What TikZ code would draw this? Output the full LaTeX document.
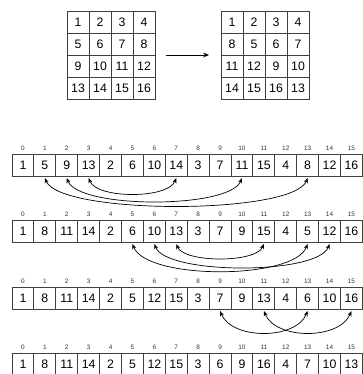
\documentclass[tikz,border=0pt]{standalone}
\usepackage{fontspec}
\setmainfont{Liberation Sans}
\usetikzlibrary{positioning,arrows.meta}

\tikzset{
  cell/.style={draw=black!75, line width=0.7pt, minimum width=0.657cm,
    minimum height=0.66cm, inner sep=0pt, outer sep=0pt,
    font=\fontsize{10.5}{12}\selectfont},
  gcell/.style={cell, minimum width=0.66cm},
  idx/.style={font=\fontsize{5.5}{6}\selectfont, inner sep=0pt, text=black!80},
  swaparc/.style={{Stealth[length=4.5pt,width=3.5pt]}-{Stealth[length=4.5pt,width=3.5pt]},
    line width=0.6pt}
}

\begin{document}
\begin{tikzpicture}[x=0.03cm,y=-0.03cm]
  \useasboundingbox (0,0) rectangle (362,374);

  % The two 4x4 squares
  \foreach \v [count=\k from 0] in {1,2,3,4,5,6,7,8,9,10,11,12,13,14,15,16} {
    \pgfmathtruncatemacro{\rw}{div(\k,4)}
    \pgfmathtruncatemacro{\cl}{mod(\k,4)}
    \node[gcell] (a\k) at ({78+22*\cl},{22+22*\rw}) {\v};
  }
  \foreach \v [count=\k from 0] in {1,2,3,4,8,5,6,7,11,12,9,10,14,15,16,13} {
    \pgfmathtruncatemacro{\rw}{div(\k,4)}
    \pgfmathtruncatemacro{\cl}{mod(\k,4)}
    \node[gcell] (b\k) at ({232+22*\cl},{22+22*\rw}) {\v};
  }

  % Arrow between the squares
  \coordinate[right=0.33cm of a7.south east] (gapL);
  \coordinate[left=0.36cm of b4.south west] (gapR);
  \draw[-{Stealth[length=5pt,width=4pt]}, line width=0.6pt] (gapL) -- (gapR);

  % The four rows with their indices
  \foreach \rw/\ytop/\vals in {
      1/154/{1,5,9,13,2,6,10,14,3,7,11,15,4,8,12,16},
      2/220/{1,8,11,14,2,6,10,13,3,7,9,15,4,5,12,16},
      3/287/{1,8,11,14,2,5,12,15,3,7,9,13,4,6,10,16},
      4/353/{1,8,11,14,2,5,12,15,3,6,9,16,4,7,10,13}} {
    \foreach \v [count=\i from 0] in \vals {
      \node[cell] (r\rw-\i) at ({12+21.9*(\i+0.5)},{\ytop+11}) {\v};
      \node[idx, above=0.09cm of r\rw-\i] (i\rw-\i) {\i};
    }
  }

  % Swaps from row 1 to row 2
  \draw[swaparc] ([yshift=-0.06cm]r1-3.south) .. controls +(8,21) and +(-8,21) .. ([yshift=-0.06cm]r1-7.south);
  \draw[swaparc] ([yshift=-0.06cm]r1-2.south) .. controls +(12,31) and +(-12,31) .. ([yshift=-0.06cm]r1-10.south);
  \draw[swaparc] ([yshift=-0.06cm]r1-1.south) .. controls +(15,37) and +(-15,37) .. ([yshift=-0.06cm]r1-13.south);

  % Swaps from row 2 to row 3
  \draw[swaparc] ([yshift=-0.06cm]r2-7.south) .. controls +(8,19) and +(-8,19) .. ([yshift=-0.06cm]r2-11.south);
  \draw[swaparc] ([yshift=-0.06cm]r2-5.south) .. controls +(14,36) and +(-14,36) .. ([yshift=-0.06cm]r2-13.south);
  \draw[swaparc] ([yshift=-0.06cm]r2-6.south) .. controls +(12,31) and +(-12,31) .. ([yshift=-0.06cm]r2-14.south);

  % Swaps from row 3 to row 4
  \draw[swaparc] ([yshift=-0.06cm]r3-9.south) .. controls +(12,29) and +(-12,29) .. ([yshift=-0.06cm]r3-13.south);
  \draw[swaparc] ([yshift=-0.06cm]r3-11.south) .. controls +(12,29) and +(-12,29) .. ([yshift=-0.06cm]r3-15.south);

\end{tikzpicture}
\end{document}
